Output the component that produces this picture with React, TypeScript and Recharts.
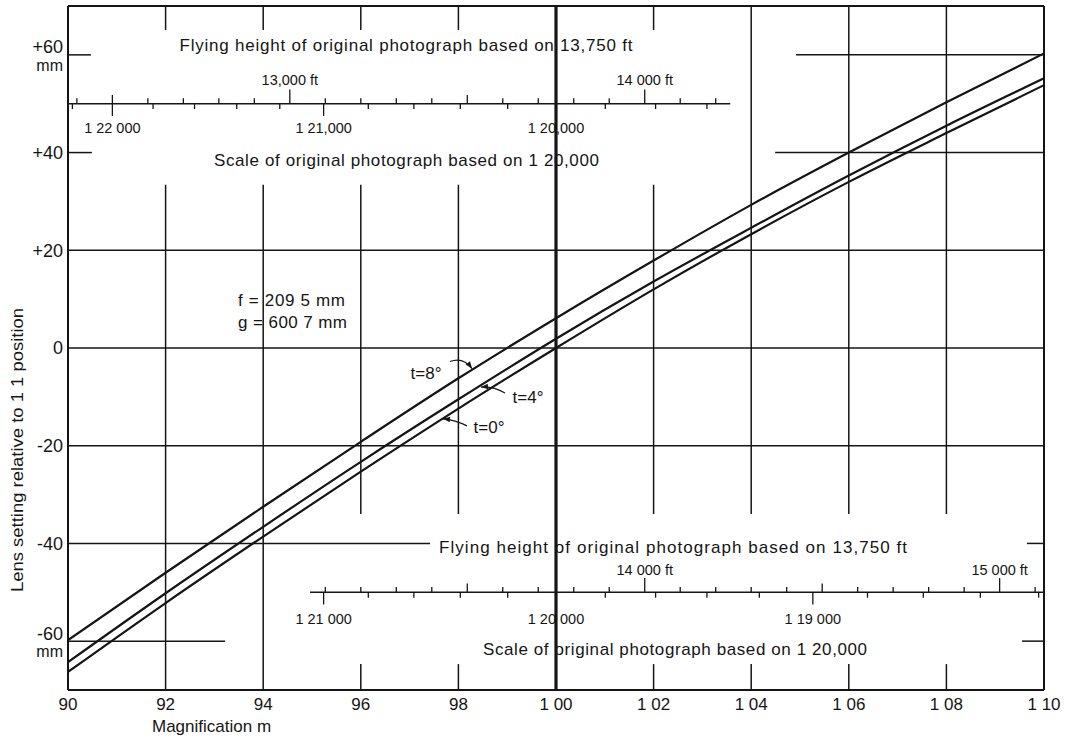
import { LineChart, Line, XAxis, YAxis, ReferenceLine, ReferenceDot, Label } from 'recharts'

// magnification m and lens setting (mm) for the three tilt values
const magnification = [0.9, 0.92, 0.94, 0.96, 0.98, 1.0, 1.02, 1.04, 1.06, 1.08, 1.1]
const tilt8 = [-59.8, -46.0, -32.5, -19.2, -6.2, 6.1, 17.9, 29.3, 40.0, 50.3, 60.3]
const tilt4 = [-64.3, -50.2, -36.6, -23.3, -10.5, 1.9, 13.6, 24.6, 35.3, 45.5, 55.2]
const tilt0 = [-66.3, -52.2, -38.6, -25.3, -12.4, 0.0, 12.0, 23.3, 34.0, 44.0, 53.8]

const xTicks = [0.9, 0.92, 0.94, 0.96, 0.98, 1.0, 1.02, 1.04, 1.06, 1.08, 1.1]
const xTickLabels = ['90', '92', '94', '96', '98', '1 00', '1 02', '1 04', '1 06', '1 08', '1 10']
const yTicks = [-60, -40, -20, 0, 20, 40, 60]

// auxiliary scales: flying height (ft) and photo scale denominators
const heightBasis = 13750
const scaleBasis = 20000
const topHeights = [12400, 12500, 12600, 12700, 12800, 12900, 13000, 13100, 13200, 13300, 13400, 13500, 13600, 13700, 13800, 13900, 14000, 14100, 14200]
const topScales = [22200, 22000, 21800, 21600, 21400, 21200, 21000, 20800, 20600, 20400, 20200, 20000, 19800, 19600, 19400]
const bottomHeights = [13100, 13200, 13300, 13400, 13500, 13600, 13700, 13800, 13900, 14000, 14100, 14200, 14300, 14400, 14500, 14600, 14700, 14800, 14900, 15000, 15100]
const bottomScales = [21000, 20800, 20600, 20400, 20200, 20000, 19800, 19600, 19400, 19200, 19000, 18800, 18600, 18400, 18200]
const topHeightLabels = [{ h: 13000, text: '13,000 ft' }, { h: 14000, text: '14 000 ft' }]
const topScaleLabels = [{ n: 22000, text: '1 22 000' }, { n: 21000, text: '1 21,000' }, { n: 20000, text: '1 20,000' }]
const bottomHeightLabels = [{ h: 14000, text: '14 000 ft' }, { h: 15000, text: '15 000 ft' }]
const bottomScaleLabels = [{ n: 21000, text: '1 21 000' }, { n: 20000, text: '1 20 000' }, { n: 19000, text: '1 19 000' }]

const rows = magnification.map((m, i) => ({ m, t8: tilt8[i], t4: tilt4[i], t0: tilt0[i] }))

const INK = '#151515'
const FONT = '"Liberation Sans", Arial, sans-serif'
const hToM = (h: number) => h / heightBasis
const nToM = (n: number) => scaleBasis / n

const seg = (x1: number, y1: number, x2: number, y2: number, key: string, w = 1.5) => (
  <ReferenceLine key={key} segment={[{ x: x1, y: y1 }, { x: x2, y: y2 }]} stroke={INK} strokeWidth={w} ifOverflow="visible" />
)

const note = (x: number, y: number, text: string, key: string, size = 17, anchor: 'start' | 'middle' | 'end' = 'middle', len?: number) => (
  <ReferenceDot
    key={key}
    x={x}
    y={y}
    r={1}
    ifOverflow="visible"
    shape={(p: any) => (
      <text x={p.cx} y={p.cy} dy="0.35em" textAnchor={anchor} fontSize={size} fontFamily={FONT} fill={INK}
        textLength={len} lengthAdjust={len ? 'spacing' : undefined}>
        {text}
      </text>
    )}
  />
)

// curved pointer ending at (x, y); fx/fy/cx/cy are pixel offsets from the tip
const arrow = (x: number, y: number, fx: number, fy: number, cx: number, cy: number, key: string) => (
  <ReferenceDot
    key={key}
    x={x}
    y={y}
    r={1}
    ifOverflow="visible"
    shape={(p: any) => {
      const dx = -cx, dy = -cy
      const l = Math.hypot(dx, dy) || 1
      const ux = dx / l, uy = dy / l
      const bx = p.cx - ux * 7, by = p.cy - uy * 7
      return (
        <g>
          <path d={`M ${p.cx + fx} ${p.cy + fy} Q ${p.cx + cx} ${p.cy + cy} ${p.cx} ${p.cy}`} fill="none" stroke={INK} strokeWidth={1.2} />
          <path d={`M ${p.cx} ${p.cy} L ${bx - uy * 2.8} ${by + ux * 2.8} L ${bx + uy * 2.8} ${by - ux * 2.8} Z`} fill={INK} />
        </g>
      )
    }}
  />
)

const YTick = (props: any) => {
  const { x, y, payload } = props
  const v = payload.value
  const label = v > 0 ? `+${v}` : v < 0 ? `-${Math.abs(v)}` : '0'
  const withUnit = Math.abs(v) === 60
  return (
    <g fontFamily={FONT} fill={INK}>
      <text x={x + 3} y={withUnit ? y - 8 : y} dy="0.355em" textAnchor="end" fontSize={18}>{label}</text>
      {withUnit && <text x={x + 3} y={y + 10} dy="0.355em" textAnchor="end" fontSize={16}>mm</text>}
    </g>
  )
}

export default function App() {
  const vTop = 65.1, vMidTop = 33.4, vMidBottom = -34.0, vBottom = -64.7
  return (
    <div style={{ position: 'absolute', left: 0, top: 0, width: 1069, height: 744, background: '#fff' }}>
      <LineChart width={1069} height={744} data={rows} margin={{ top: 6, right: 25, bottom: 9, left: 8 }}>
        <XAxis
          type="number"
          dataKey="m"
          domain={[0.9, 1.1]}
          ticks={xTicks}
          tickFormatter={(v: number) => xTickLabels[xTicks.findIndex(t => Math.abs(t - v) < 1e-6)] ?? ''}
          tickLine={false}
          axisLine={{ stroke: INK, strokeWidth: 2 }}
          tick={{ fontSize: 17, fill: INK, fontFamily: FONT }}
          height={45}
          allowDataOverflow
        >
          <Label content={({ viewBox }: any) => (
            <text x={viewBox.x + 84} y={viewBox.y + 42} fontSize={17} fontFamily={FONT} fill={INK}>Magnification m</text>
          )} />
        </XAxis>
        <YAxis
          type="number"
          domain={[-70, 70]}
          ticks={yTicks}
          width={60}
          tickLine={false}
          axisLine={{ stroke: INK, strokeWidth: 2 }}
          tick={<YTick />}
          allowDataOverflow
        >
          <Label content={({ viewBox }: any) => (
            <text x={viewBox.x + 9} y={viewBox.y + 444} transform={`rotate(-90, ${viewBox.x + 9}, ${viewBox.y + 444})`}
              textAnchor="middle" dy="0.35em" fontSize={17} fontFamily={FONT} fill={INK} textLength={284} lengthAdjust="spacingAndGlyphs">
              Lens setting relative to 1 1 position
            </text>
          )} />
        </YAxis>

        {/* frame */}
        <ReferenceLine y={70} stroke={INK} strokeWidth={2} ifOverflow="visible" />
        <ReferenceLine x={1.1} stroke={INK} strokeWidth={2} ifOverflow="visible" />

        {/* horizontal grid, broken around the scales */}
        {seg(0.9, 60, 0.9047, 60, 'h60a')}
        {seg(1.0492, 60, 1.1, 60, 'h60b')}
        {seg(0.9, 40, 0.9049, 40, 'h40a')}
        {seg(1.0449, 40, 1.1, 40, 'h40b')}
        {seg(0.9, 20, 1.1, 20, 'h20')}
        {seg(0.9, 0, 1.1, 0, 'h0')}
        {seg(0.9, -20, 1.1, -20, 'hm20')}
        {seg(0.9, -40, 0.9742, -40, 'hm40a')}
        {seg(1.0965, -40, 1.1, -40, 'hm40b')}
        {seg(0.9, -60, 0.9322, -60, 'hm60a')}
        {seg(1.0955, -60, 1.1, -60, 'hm60b')}

        {/* vertical grid */}
        {[0.92, 0.94].map(x => [seg(x, 70, x, vTop, `vt${x}`), seg(x, vMidTop, x, -70, `vm${x}`)])}
        {[0.96, 0.98, 1.02].map(x => [seg(x, 70, x, vTop, `vt${x}`), seg(x, vMidTop, x, vMidBottom, `vm${x}`), seg(x, vBottom, x, -70, `vb${x}`)])}
        {[1.04, 1.06, 1.08].map(x => [seg(x, 70, x, vMidBottom, `vt${x}`), seg(x, vBottom, x, -70, `vb${x}`)])}
        <ReferenceLine x={1.0} stroke={INK} strokeWidth={3.2} ifOverflow="visible" />

        {/* top auxiliary scale */}
        {seg(0.9, 50, 1.0357, 50, 'topline', 1.4)}
        {topHeights.filter(h => hToM(h) >= 0.9).map(h => seg(hToM(h), 50, hToM(h), 50 + (h % 1000 === 0 ? 2.9 : h % 500 === 0 ? 1.8 : 1.1), `th${h}`, 1.3))}
        {topScales.filter(n => nToM(n) >= 0.9).map(n => seg(nToM(n), 50, nToM(n), 50 - (n % 1000 === 0 ? 2.5 : 1.1), `ts${n}`, 1.3))}
        {topHeightLabels.map(l => note(hToM(l.h), 54.9, l.text, `thl${l.h}`, 14.5))}
        {topScaleLabels.map(l => note(nToM(l.n), 45.0, l.text, `tsl${l.n}`, 14.5))}
        {note(0.96926, 62.0, 'Flying height of original photograph  based on 13,750 ft', 'ttitle', 17, 'middle', 453)}
        {note(0.96936, 38.5, 'Scale of original photograph based on 1 20,000', 'tscale', 17, 'middle', 385)}

        {/* bottom auxiliary scale */}
        {seg(0.9496, -50, 1.1, -50, 'botline', 1.4)}
        {bottomHeights.map(h => seg(hToM(h), -50, hToM(h), -50 + (h % 1000 === 0 ? 2.9 : h % 500 === 0 ? 1.8 : 1.1), `bh${h}`, 1.3))}
        {bottomScales.map(n => seg(nToM(n), -50, nToM(n), -50 - (n % 1000 === 0 ? 2.5 : 1.1), `bs${n}`, 1.3))}
        {bottomHeightLabels.map(l => note(hToM(l.h), -45.4, l.text, `bhl${l.h}`, 14.5))}
        {bottomScaleLabels.map(l => note(nToM(l.n), -55.5, l.text, `bsl${l.n}`, 14.5))}
        {note(1.02398, -40.7, 'Flying height of original photograph  based on 13,750 ft', 'btitle', 17, 'middle', 468)}
        {note(1.02439, -61.6, 'Scale of original photograph based on 1 20,000', 'bscale', 17, 'middle', 384)}

        {/* constants and curve labels */}
        {note(0.93484, 9.8, 'f = 209 5 mm', 'fnote', 17, 'start', 107)}
        {note(0.93484, 5.3, 'g = 600 7 mm', 'gnote', 17, 'start', 109)}
        {note(0.97336, -5.1, 't=8°', 'l8', 17)}
        {note(0.99426, -10.0, 't=4°', 'l4', 17)}
        {note(0.98627, -16.2, 't=0°', 'l0', 17)}
        {arrow(0.98279, -4.2, -22, -7, -9, -12, 'a8')}
        {arrow(0.98463, -8.0, 24, 6, 12, -1, 'a4')}
        {arrow(0.97684, -14.5, 24, 7, 12, 1, 'a0')}

        <Line type="monotone" dataKey="t8" stroke={INK} strokeWidth={2.2} dot={false} activeDot={false} isAnimationActive={false} />
        <Line type="monotone" dataKey="t4" stroke={INK} strokeWidth={2.2} dot={false} activeDot={false} isAnimationActive={false} />
        <Line type="monotone" dataKey="t0" stroke={INK} strokeWidth={2.2} dot={false} activeDot={false} isAnimationActive={false} />
      </LineChart>
    </div>
  )
}
